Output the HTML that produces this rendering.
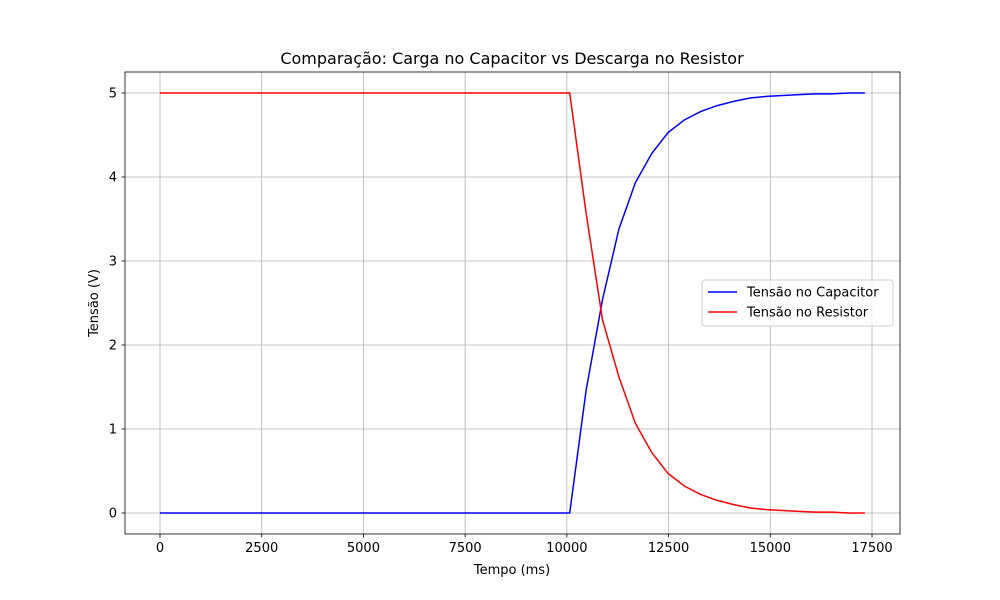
<!DOCTYPE html>
<html><head><meta charset="utf-8"><style>
body{margin:0;background:#fff;}
svg{display:block;font-family:"DejaVu Sans","Liberation Sans",sans-serif;}
</style></head><body>
<svg id="chart" width="1000" height="600">
<rect width="1000" height="600" fill="#fff"/>
</svg>
<script>
const times=[0,10070,10473,10876,11279,11682,12085,12488,12891,13294,13697,14100,14503,14906,15309,15712,16115,16518,16921,17324];
const capacitor=[0,0,1.46,2.54,3.38,3.93,4.28,4.53,4.68,4.78,4.85,4.9,4.94,4.96,4.97,4.98,4.99,4.99,5.0,5.0];
const resistor=[5,5,3.57,2.3,1.62,1.07,0.72,0.47,0.32,0.22,0.15,0.1,0.06,0.04,0.03,0.02,0.01,0.01,0.0,0.0];
const xTicks=[0,2500,5000,7500,10000,12500,15000,17500];
const yTicks=[0,1,2,3,4,5];
const L=125,R=900,T=72,B=534;
const xmin=-860,xmax=18188,ymin=-0.25,ymax=5.25;
const sx=v=>L+(v-xmin)/(xmax-xmin)*(R-L);
const sy=v=>B-(v-ymin)/(ymax-ymin)*(B-T);
const svg=document.getElementById('chart');
const NS='http://www.w3.org/2000/svg';
function mk(tag,attrs,parent){const e=document.createElementNS(NS,tag);for(const k in attrs)e.setAttribute(k,attrs[k]);(parent||svg).appendChild(e);return e;}
xTicks.forEach(t=>{const x=sx(t);
const g=mk('line',{x1:x,x2:x,y1:T,y2:B,stroke:'#b0b0b0','stroke-width':0.8});


mk('line',{x1:x,x2:x,y1:B,y2:B+3.5,stroke:'#000','stroke-width':0.8});
const tx=mk('text',{x:x,y:B+18,'text-anchor':'middle','font-size':13});tx.textContent=t;


});
yTicks.forEach(t=>{const y=sy(t);
const g=mk('line',{x1:L,x2:R,y1:y,y2:y,stroke:'#b0b0b0','stroke-width':0.8});


mk('line',{x1:L-3.5,x2:L,y1:y,y2:y,stroke:'#000','stroke-width':0.8});
const tx=mk('text',{x:L-8,y:y+4.5,'text-anchor':'end','font-size':13});tx.textContent=t;


});
function series(vals,color,name){
const d=times.map((t,i)=>(i?'L':'M')+sx(t).toFixed(2)+','+sy(vals[i]).toFixed(2)).join(' ');
const p=mk('path',{d:d,fill:'none',stroke:color,'stroke-width':1.5});


}
series(capacitor,'#0000ff','capacitor-line');
series(resistor,'#ff0000','resistor-line');
const fr=mk('rect',{x:L,y:T,width:R-L,height:B-T,fill:'none',stroke:'#000','stroke-width':0.8});


const ti=mk('text',{x:512,y:64,'text-anchor':'middle','font-size':16});ti.textContent='Comparação: Carga no Capacitor vs Descarga no Resistor';


const xl=mk('text',{x:512,y:574,'text-anchor':'middle','font-size':13});xl.textContent='Tempo (ms)';


const yl=mk('text',{x:98,y:303,'text-anchor':'middle','font-size':13,transform:'rotate(-90 98 303)'});yl.textContent='Tensão (V)';


const lg=mk('g',{});


mk('rect',{x:702,y:280,width:191,height:46,rx:3,fill:'#fff','fill-opacity':0.8,stroke:'#ccc'},lg);
[['Tensão no Capacitor','#0000ff',292],['Tensão no Resistor','#ff0000',312]].forEach(([lab,c,y])=>{
const e=mk('g',{},lg);


mk('line',{x1:708,x2:737,y1:y,y2:y,stroke:c,'stroke-width':1.5},e);
const t=mk('text',{x:747,y:y+4.5,'font-size':13},e);t.textContent=lab;
});
</script>
</body></html>
